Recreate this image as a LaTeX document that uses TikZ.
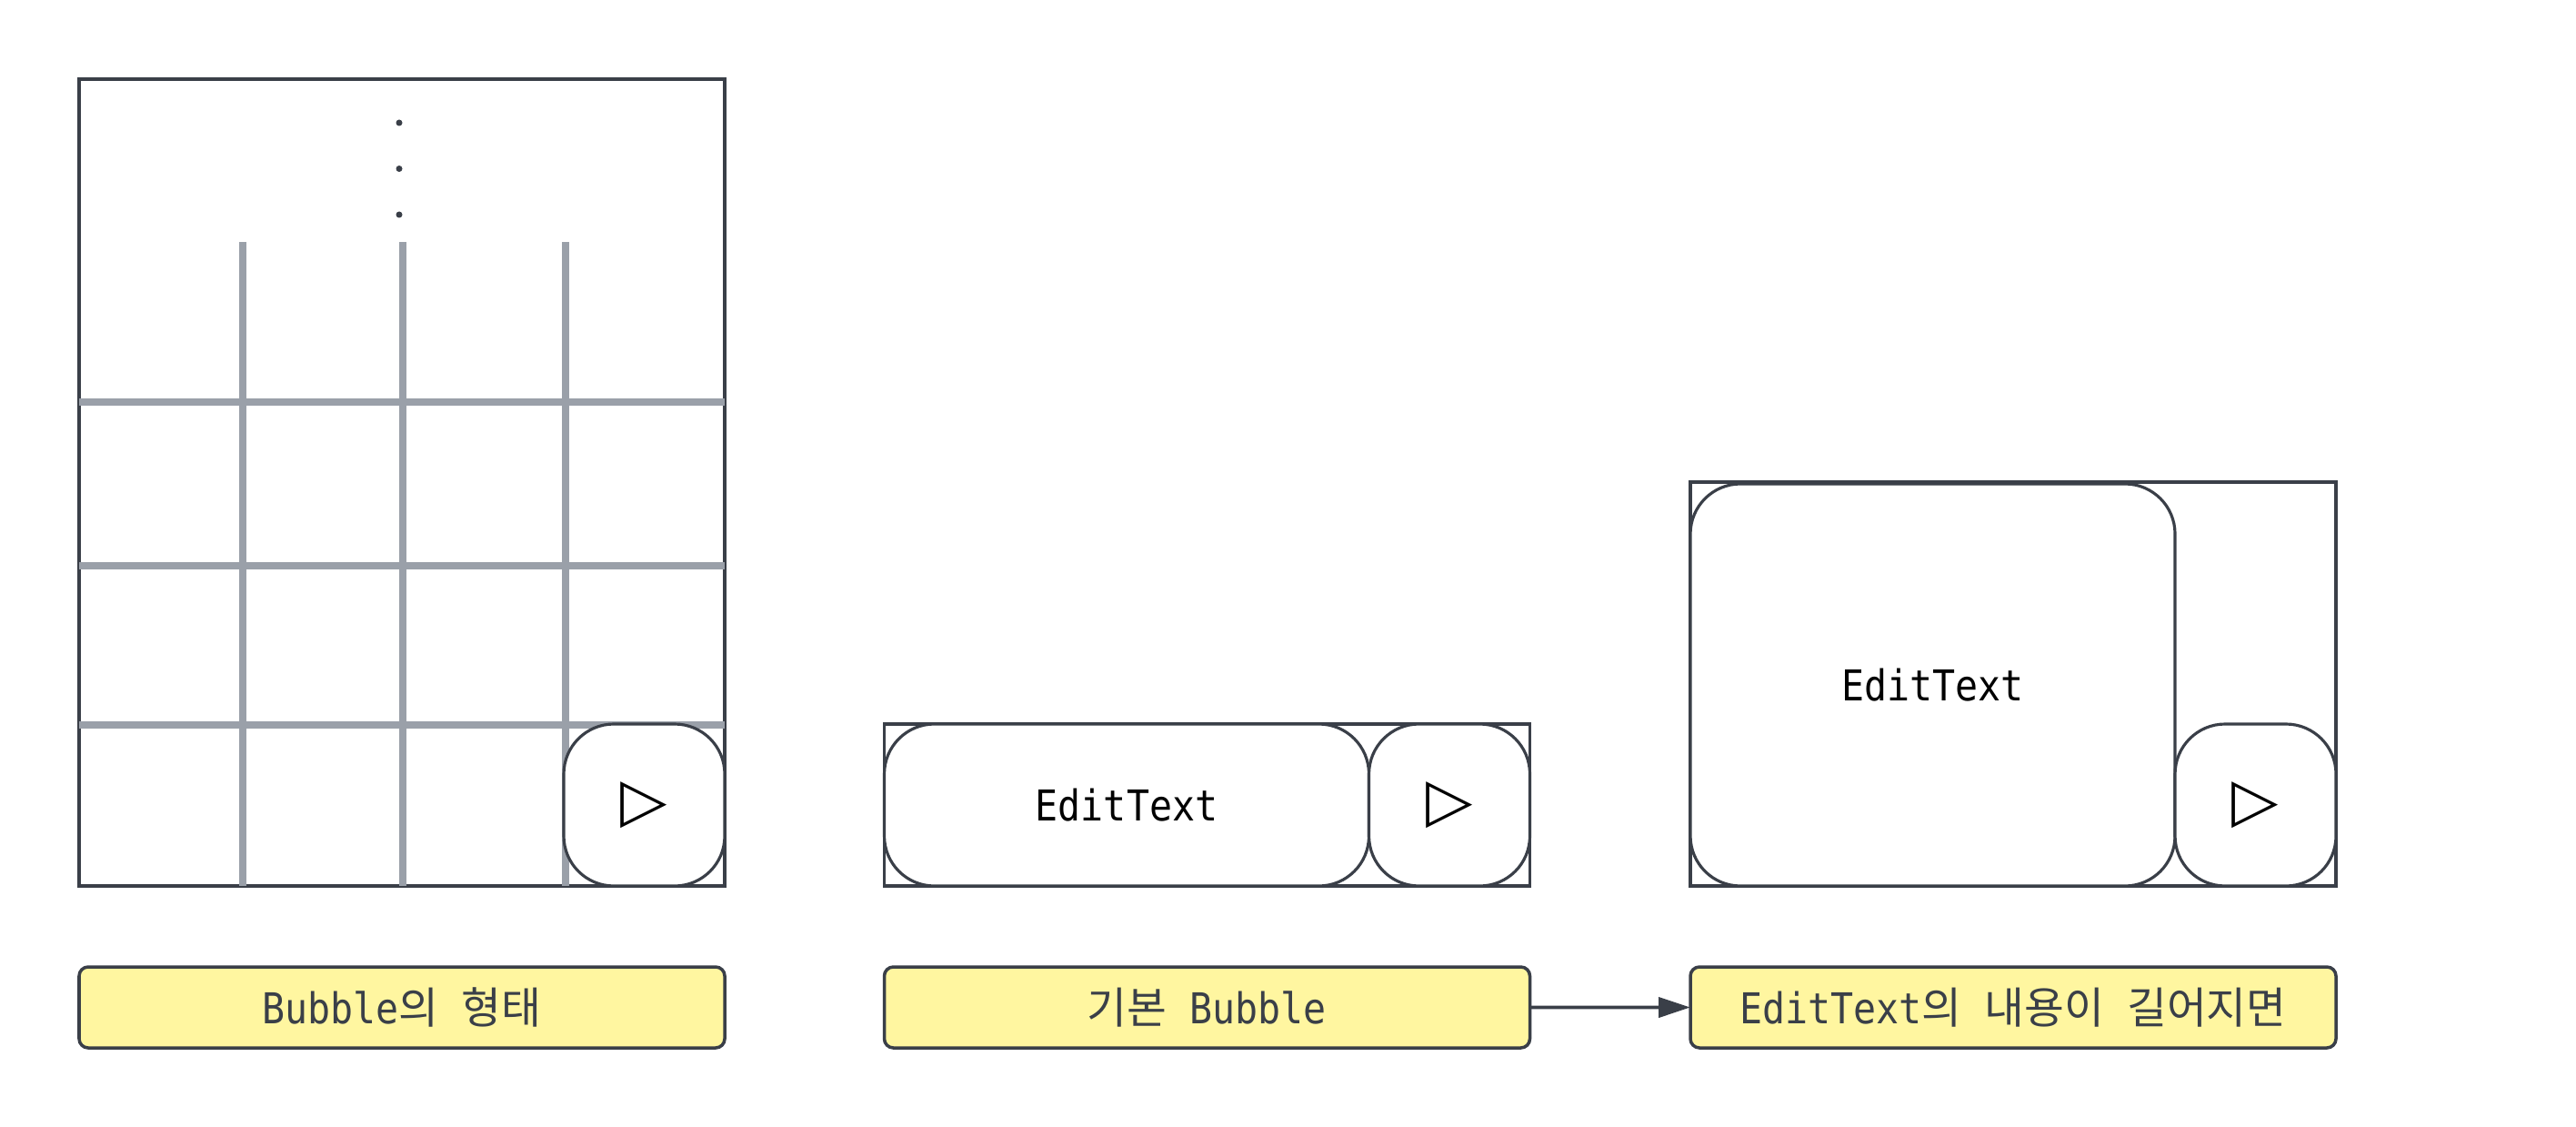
\documentclass[tikz,border=0pt]{standalone}
\usepackage{fontspec}
\setmonofont[FakeStretch=0.89]{DejaVu Sans Mono}
\newfontfamily\cjk[Scale=1.02]{Noto Sans CJK KR}
\newfontfamily\symfont{DejaVu Sans}
\usetikzlibrary{positioning,arrows.meta}
\definecolor{edgegray}{HTML}{3A3F48}
\definecolor{gridgray}{HTML}{9AA0A9}
\definecolor{noteyellow}{HTML}{FFF6A0}

\tikzset{
  outerbox/.style={draw=edgegray, line width=0.9pt, minimum width=7.10cm, inner sep=0pt, outer sep=0pt},
  roundbox/.style={draw=edgegray, fill=white, line width=0.9pt, rounded corners=0.55cm, inner sep=0pt, outer sep=0pt, font=\ttfamily\fontsize{13.3pt}{16pt}\selectfont},
  sendbtn/.style={roundbox, minimum width=1.77cm, minimum height=1.78cm, font=\symfont\fontsize{19pt}{22pt}\selectfont},
  caption/.style={draw=edgegray, fill=noteyellow, line width=1pt, rounded corners=0.1cm, minimum width=7.10cm, minimum height=0.89cm, inner sep=0pt, outer sep=0pt, text=edgegray, font=\ttfamily\fontsize{13.3pt}{16pt}\selectfont},
  gridline/.style={draw=gridgray, line width=2pt}
}

\begin{document}
\begin{tikzpicture}[node distance=0.89cm]
    \useasboundingbox (0,0) rectangle (28.33,-12.39);

    % bubble shape with grid
    \node (shape) [outerbox, minimum height=8.87cm] at (4.42,-5.305) {};
    \foreach \x in {2.67,4.43,6.22}
        \draw [gridline] (\x,-2.66) -- (\x,-9.74);
    \foreach \y in {-4.42,-6.22,-7.97}
        \draw [gridline] (0.87,\y) -- (7.97,\y);
    \foreach \y in {-1.35,-1.855,-2.36}
        \fill [edgegray] (4.39,\y) circle (0.035);
    \node (shapesend) [sendbtn, anchor=south east] at (shape.south east) {▷};

    % basic bubble
    \node (basic) [outerbox, minimum height=1.78cm] at (13.275,-8.85) {};
    \node (basicedit) [roundbox, minimum width=5.33cm, minimum height=1.78cm, anchor=south west] at (basic.south west) {EditText};
    \node (basicsend) [sendbtn, anchor=south east] at (basic.south east) {▷};

    % long bubble
    \node (long) [outerbox, minimum height=4.44cm] at (22.14,-7.52) {};
    \node (longedit) [roundbox, minimum width=5.33cm, minimum height=4.42cm, anchor=south west] at (long.south west) {EditText};
    \node (longsend) [sendbtn, anchor=south east] at (long.south east) {▷};

    % captions
    \node (shapelabel) [caption, below=of shape] {Bubble{\cjk 의} {\cjk 형태}};
    \node (basiclabel) [caption, below=of basic] {{\cjk 기본} Bubble};
    \node (longlabel) [caption, below=of long] {EditText{\cjk 의} {\cjk 내용이} {\cjk 길어지면}};

    \draw [-{Triangle[length=0.35cm,width=0.22cm]}, draw=edgegray, fill=edgegray, line width=1.1pt] (basiclabel) -- (longlabel);

\end{tikzpicture}
\end{document}
